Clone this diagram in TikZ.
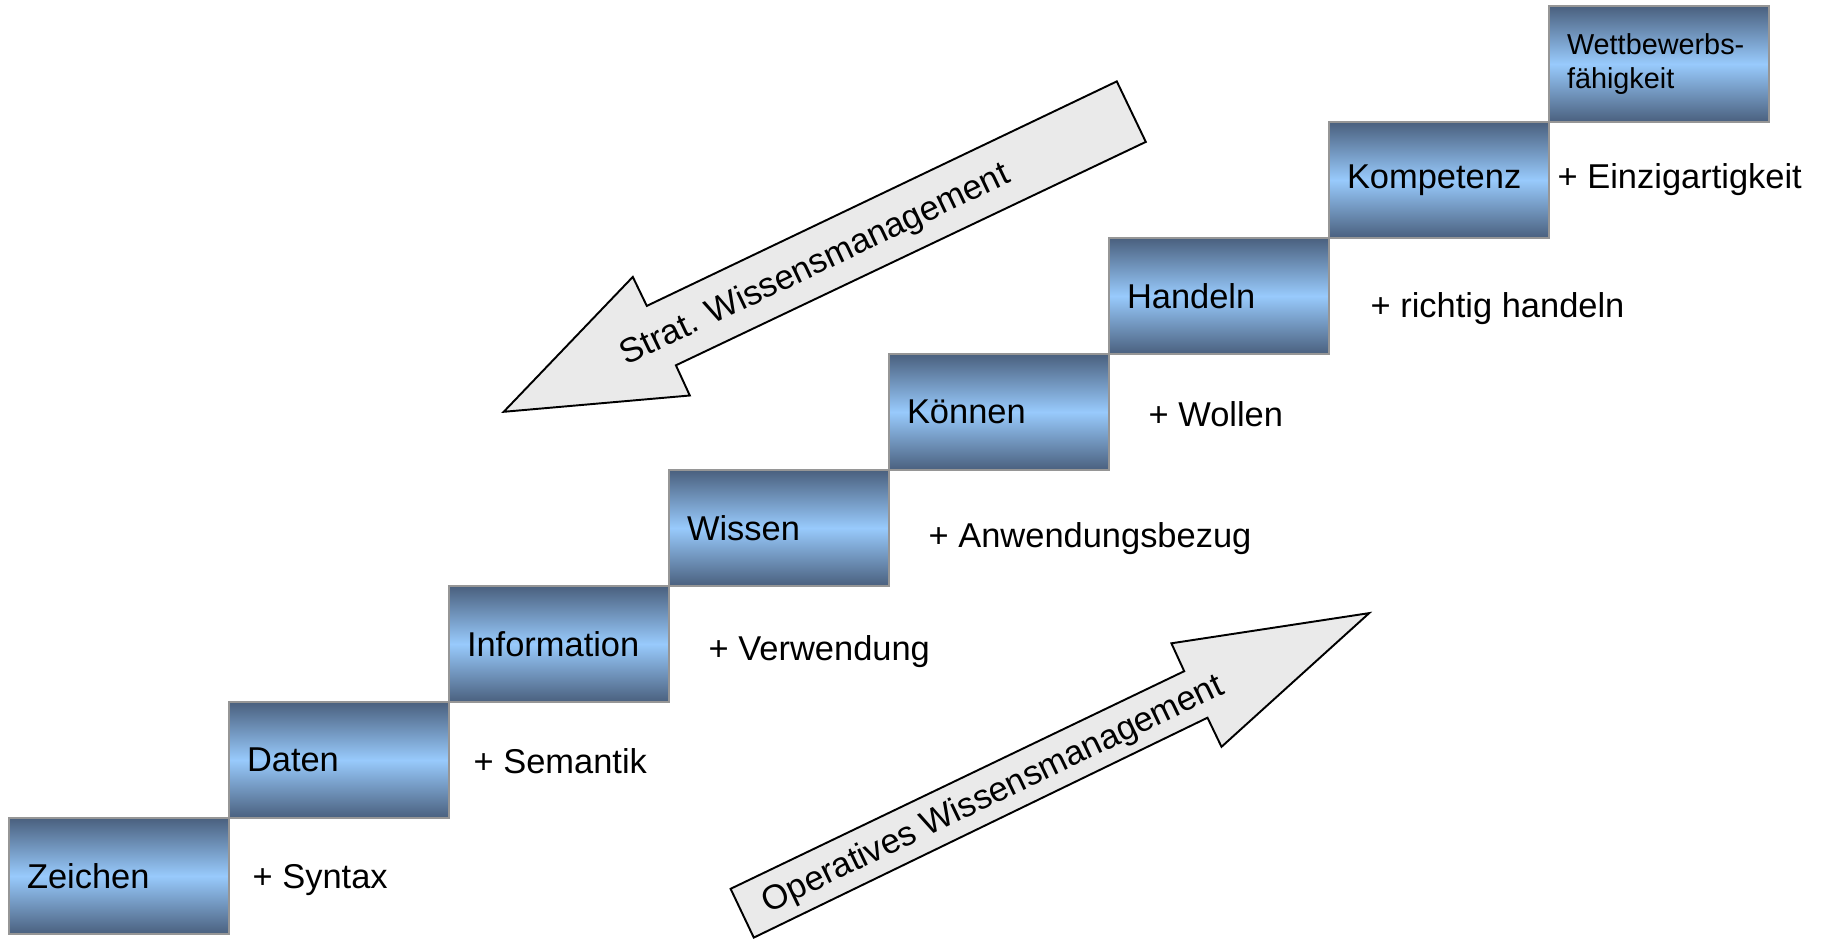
\documentclass[tikz,border=0pt]{standalone}
\usepackage{fontspec}
\setmainfont{Liberation Sans}
\usepackage{xcolor}
\usepackage{tikz}
\usetikzlibrary{positioning}
\definecolor{stairdark}{RGB}{74,96,126}
\definecolor{stairlight}{RGB}{152,202,252}
\definecolor{stairedge}{RGB}{150,150,150}
\definecolor{arrowgray}{RGB}{234,234,234}
\tikzstyle{stair} = [rectangle, draw=stairedge, line width=0.6pt, top color=stairdark, bottom color=stairdark, middle color=stairlight, minimum width=2.2cm, minimum height=1.16cm, text width=1.84cm, inner xsep=0.18cm, inner ysep=0pt, outer sep=0pt, align=left, font=\fontsize{9.8}{12}\selectfont]
\tikzstyle{gain} = [inner sep=0pt, font=\fontsize{9.8}{12}\selectfont]
\tikzstyle{bigarrow} = [draw=black, fill=arrowgray, line width=0.55pt, line join=miter]

\begin{document}
\begin{tikzpicture}[node distance=0cm]
                \useasboundingbox (0,0) rectangle (18.24,9.40);
                % stairs
                \node[stair, anchor=south west] (zeichen) at (0.09,0.06) {Zeichen};
                \node[stair, above right=0cm and 0cm of zeichen] (daten) {Daten};
                \node[stair, above right=0cm and 0cm of daten] (information) {Information};
                \node[stair, above right=0cm and 0cm of information] (wissen) {Wissen};
                \node[stair, above right=0cm and 0cm of wissen] (koennen) {Können};
                \node[stair, above right=0cm and 0cm of koennen] (handeln) {Handeln};
                \node[stair, above right=0cm and 0cm of handeln] (kompetenz) {Kompetenz};
                \node[stair, above right=0cm and 0cm of kompetenz, font=\fontsize{8.2}{9.8}\selectfont] (wettbewerb) {Wettbewerbs-\\fähigkeit};
                % what each step adds
                \node[gain, right=0.23cm of zeichen.base east, anchor=base west] (syntax) {+ Syntax};
                \node[gain, right=0.24cm of daten.base east, anchor=base west, yshift=-0.02cm] (semantik) {+ Semantik};
                \node[gain, right=0.39cm of information.base east, anchor=base west, yshift=-0.04cm] (verwendung) {+ Verwendung};
                \node[gain, right=0.39cm of wissen.base east, anchor=base west, yshift=-0.07cm] (anwendung) {+ Anwendungsbezug};
                \node[gain, right=0.39cm of koennen.base east, anchor=base west, yshift=-0.03cm] (wollen) {+ Wollen};
                \node[gain, right=0.41cm of handeln.base east, anchor=base west, yshift=-0.09cm] (richtig) {+ richtig handeln};
                \node[gain, right=0.08cm of kompetenz.base east, anchor=base west] (einzig) {+ Einzigartigkeit};
                % big arrows
                \draw[bigarrow] (5.037,5.282) -- (6.898,5.445) -- (6.759,5.747) -- (11.458,7.981) -- (11.168,8.586) -- (6.468,6.341) -- (6.328,6.631) -- cycle;
                \node[gain, rotate=25.5] (strat) at (8.155,6.745) {Strat. Wissensmanagement};
                \draw[bigarrow] (7.538,0.024) -- (7.306,0.512) -- (11.842,2.688) -- (11.714,2.967) -- (13.692,3.269) -- (12.215,1.932) -- (12.075,2.223) -- cycle;
                \node[gain, rotate=25.7] (operativ) at (9.935,1.45) {Operatives Wissensmanagement};
            \end{tikzpicture}
\end{document}
